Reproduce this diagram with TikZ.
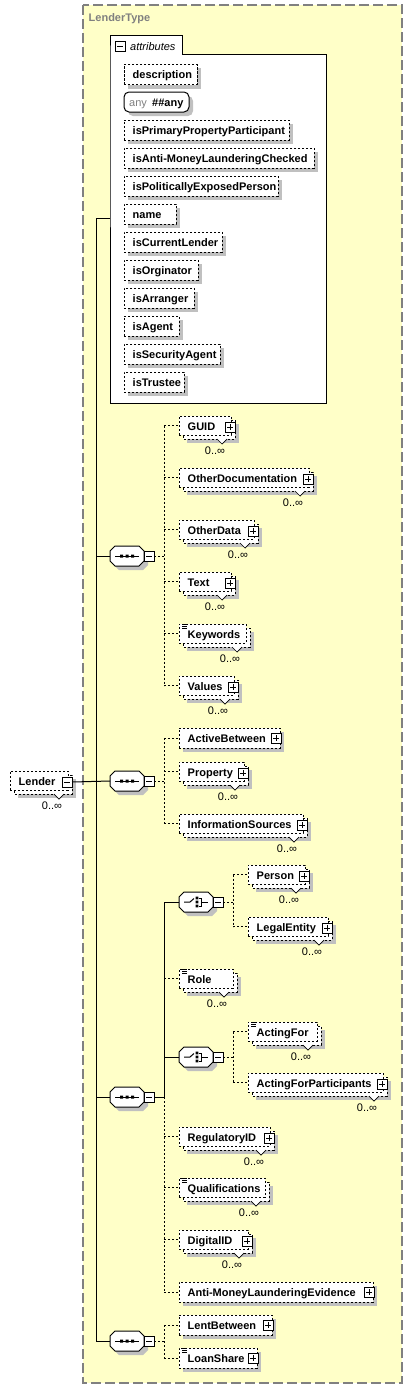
\documentclass[tikz,border=0pt]{standalone}
\usepackage{fontspec}
\setmainfont{Liberation Sans}
\definecolor{ylw}{HTML}{FFFFC8}
\definecolor{shc}{HTML}{C0C0C0}
\definecolor{brd}{HTML}{808080}
\tikzset{
 dbox/.style={draw=black, fill=white, line width=1pt, dash pattern=on 2.2pt off 1.8pt},
 ebox/.style={dbox, inner sep=0pt, outer sep=0pt},
 lbl/.style={font=\bfseries\fontsize{11}{13}\selectfont, inner sep=0pt, anchor=base west},
 mul/.style={font=\fontsize{11}{13}\selectfont, inner sep=0pt, anchor=base},
 con/.style={line width=1pt},
 dcon/.style={line width=1pt, dash pattern=on 2.2pt off 1.8pt},
 pbox/.style={draw, fill=white, line width=0.8pt, inner sep=0pt, outer sep=0pt, minimum size=10pt,
   path picture={\draw[line width=0.8pt] ([xshift=2pt]path picture bounding box.west) -- ([xshift=-2pt]path picture bounding box.east) ([yshift=-2pt]path picture bounding box.north) -- ([yshift=2pt]path picture bounding box.south);}},
 mbox/.style={draw, fill=white, line width=0.8pt, inner sep=0pt, outer sep=0pt, minimum size=10pt,
   path picture={\draw[line width=0.8pt] ([xshift=2pt]path picture bounding box.west) -- ([xshift=-2pt]path picture bounding box.east);}},
}
\newcommand\elS[5]{%
 \fill[shc] ({#2+4},{#4-6}) rectangle ({#3+4},{#4+14});
 \node[ebox, anchor=west, minimum width={(#3-#2)*1pt}, minimum height=20pt] (#1) at (#2,#4) {};
 \node[lbl] (#1-t) at ({#2+8.5},{#4+4}) {#5};}
\newcommand\elSp[5]{\elS{#1}{#2}{#3}{#4}{#5}\node[pbox] (#1-p) at ({#3-4},#4) {};}
\newcommand\elM[5]{%
 \fill[shc] ({#2+8},{#4-2}) rectangle ({#3+4},{#4+17});
 \filldraw[dbox] ({#2+4},{#4-6}) rectangle (#3,{#4+13});
 \filldraw[fill=white, line width=0.7pt] ({#3-18},{#4+13}) -- ({#3-13},{#4+18}) -- ({#3-8},{#4+13});
 \node[ebox, anchor=west, minimum width={(#3-#2-4)*1pt}, minimum height=19pt] (#1) at (#2,{#4-0.5}) {};
 \node[lbl] (#1-t) at ({#2+8.5},{#4+4}) {#5};
 \node[mul] (#1-m) at ({#3-20},{#4+28}) {0..∞};}
\newcommand\elMp[5]{\elM{#1}{#2}{#3}{#4}{#5}\node[pbox] (#1-p) at ({#3-5},{#4+1}) {};}
\newcommand\docic[2]{\draw[line width=0.7pt] ({#1+3},#2) -- ({#1+8},#2) ({#1+3},{#2+2}) -- ({#1+8},{#2+2}) ({#1+3},{#2+4}) -- ({#1+8},{#2+4});}
\newcommand\seqn[3]{%
 \begin{scope}[shift={(#2,#3)}]
 \fill[shc] (9,-6) -- (33,-6) -- (38,-1) -- (38,9) -- (33,14) -- (9,14) -- (4,9) -- (4,-1) -- cycle;
 \filldraw[fill=white, line width=1pt] (5,-10) -- (29,-10) -- (34,-5) -- (34,5) -- (29,10) -- (5,10) -- (0,5) -- (0,-5) -- cycle;
 \draw[line width=1pt] (5,0) -- (29,0);
 \fill (10,-1.5) rectangle (13,1.5) (15.5,-1.5) rectangle (18.5,1.5) (21,-1.5) rectangle (24,1.5);
 \node[inner sep=0pt, outer sep=0pt, minimum width=34pt, minimum height=20pt, anchor=west] (#1) at (0,0) {};
 \node[mbox, anchor=west] (#1m) at (34,0) {};
 \end{scope}}
\newcommand\chn[3]{%
 \begin{scope}[shift={(#2,#3)}]
 \fill[shc] (9,-6) -- (33,-6) -- (38,-1) -- (38,9) -- (33,14) -- (9,14) -- (4,9) -- (4,-1) -- cycle;
 \filldraw[fill=white, line width=1pt] (5,-10) -- (29,-10) -- (34,-5) -- (34,5) -- (29,10) -- (5,10) -- (0,5) -- (0,-5) -- cycle;
 \draw[line width=1pt] (5,0) -- (11,0) -- (15,-3.5);
 \fill (16.6,-5.4) rectangle (19.4,-2.6) (16.6,-1.4) rectangle (19.4,1.4) (16.6,2.6) rectangle (19.4,5.4);
 \draw[line width=1pt] (19.5,-4) -- (22,-4) -- (22,4) -- (19.5,4) (22,0) -- (29,0);
 \node[inner sep=0pt, outer sep=0pt, minimum width=34pt, minimum height=20pt, anchor=west] (#1) at (0,0) {};
 \node[mbox, anchor=west] (#1m) at (34,0) {};
 \end{scope}}
\begin{document}
\begin{tikzpicture}[x=1pt,y=-1pt]
\useasboundingbox (0,0) rectangle (412,1389);
\filldraw[fill=ylw, draw=brd, line width=1.2pt, dash pattern=on 10pt off 4pt] (83,5) rectangle (402,1383);
\node[font=\bfseries\fontsize{11}{13}\selectfont, text=brd, inner sep=0pt, anchor=base west] (title) at (88.5,22) {LenderType};

% attributes
\filldraw[fill=white, line width=1pt] (110,55) -- (110,36) -- (182,36) -- (182,55) -- (326,55) -- (326,403) -- (110,403) -- cycle;
\node[inner sep=0pt, outer sep=0pt, minimum width=216pt, minimum height=348pt, anchor=north west] (attr) at (110,55) {};
\node[mbox] (attrm) at (120,46.5) {};
\node[font=\itshape\fontsize{11}{13}\selectfont, inner sep=0pt, anchor=base west] (attrt) at (130,50.5) {attributes};
\elS{description}{124}{197}{74.5}{description}
\fill[shc, rounded corners=5pt] (128,96) rectangle (193,116);
\draw[rounded corners=5pt, fill=white, line width=1pt] (124,92) rectangle (189,112);
\node[font=\fontsize{11}{13}\selectfont, text=brd, inner sep=0pt, anchor=base west] (anyk) at (129,106) {any};
\node[lbl] (anyv) at (152,106) {\#\#any};
\elS{ipp}{124}{289}{130}{isPrimaryPropertyParticipant}
\elS{iaml}{124}{314}{158}{isAnti-MoneyLaunderingChecked}
\elS{ipep}{124}{278}{186}{isPoliticallyExposedPerson}
\elS{nm}{124}{176}{214}{name}
\elS{icl}{124}{222}{242}{isCurrentLender}
\elS{iorg}{124}{198}{270}{isOrginator}
\elS{iarr}{124}{194}{298}{isArranger}
\elS{iag}{124}{179}{326}{isAgent}
\elS{isa}{124}{220}{354}{isSecurityAgent}
\elS{itr}{124}{184}{382}{isTrustee}

% Lender
\elM{lender}{10}{72}{781}{Lender}
\node[mbox] (lenderm) at (67,782) {};

% sequences
\seqn{s1}{110}{556}
\seqn{s2}{110}{781}
\seqn{s3}{110}{1097}
\seqn{s4}{110}{1341}
\chn{c1}{179}{902}
\chn{c2}{179}{1057}

% seq1 children
\elMp{guid}{179}{235}{426}{GUID}
\elMp{odoc}{179}{313}{478}{OtherDocumentation}
\elMp{odata}{179}{258}{530}{OtherData}
\elMp{text}{179}{235}{582}{Text}
\elM{kw}{179}{250}{634}{Keywords}\docic{179}{624}
\elMp{val}{179}{238}{686}{Values}

% seq2 children
\elSp{ab}{179}{280}{738}{ActiveBetween}
\elMp{prop}{179}{248}{772}{Property}
\elMp{is}{179}{307}{824}{InformationSources}

% seq3 children
\elMp{person}{248}{309}{875}{Person}
\elMp{le}{248}{332}{927}{LegalEntity}
\elM{role}{179}{237}{979}{Role}\docic{179}{969}
\elM{af}{248}{321}{1032}{ActingFor}\docic{248}{1022}
\elMp{afp}{248}{387}{1083}{ActingForParticipants}
\elMp{rid}{179}{274}{1137}{RegulatoryID}
\elM{qual}{179}{269}{1188}{Qualifications}\docic{179}{1178}
\elMp{did}{179}{252}{1240}{DigitalID}
\elSp{aml}{179}{373}{1292}{Anti-MoneyLaunderingEvidence}

% seq4 children
\elSp{lb}{179}{272}{1325}{LentBetween}
\elSp{ls}{179}{257}{1358}{LoanShare}\docic{179}{1348}

% spine
\coordinate (attrL) at (110,218);
\coordinate (spTop) at (96,218);
\draw[con] (attrL) -- (spTop) -- (spTop |- s4.west) -- (s4.west);
\draw[con] (spTop |- s1.west) -- (s1.west);
\draw[con] (spTop |- s3.west) -- (s3.west);
\draw[con] (lenderm.east) -- (s2.west);

% seq1 bus
\coordinate (b1) at (164,556);
\draw[dcon] (s1m.east) -- (b1);
\draw[dcon] (b1 |- guid.west) -- (b1 |- val.west);
\foreach \n in {guid,odoc,odata,text,kw,val}{\draw[dcon] (b1 |- \n.west) -- (\n.west);}

% seq2 bus
\coordinate (b2) at (164,781);
\draw[dcon] (s2m.east) -- (b2);
\draw[dcon] (b2 |- ab.west) -- (b2 |- is.west);
\foreach \n in {ab,prop,is}{\draw[dcon] (b2 |- \n.west) -- (\n.west);}

% seq3 bus
\coordinate (b3) at (164,1097);
\draw[con] (s3m.east) -- (b3);
\draw[con] (b3) -- (b3 |- c1.west) -- (c1.west);
\draw[con] (b3 |- c2.west) -- (c2.west);
\draw[dcon] (b3) -- (b3 |- aml.west);
\foreach \n in {role,rid,qual,did,aml}{\draw[dcon] (b3 |- \n.west) -- (\n.west);}

% choice buses
\coordinate (b4) at (233,902);
\draw[dcon] (c1m.east) -- (b4);
\draw[dcon] (b4 |- person.west) -- (b4 |- le.west);
\foreach \n in {person,le}{\draw[dcon] (b4 |- \n.west) -- (\n.west);}
\coordinate (b5) at (233,1057);
\draw[dcon] (c2m.east) -- (b5);
\draw[dcon] (b5 |- af.west) -- (b5 |- afp.west);
\foreach \n in {af,afp}{\draw[dcon] (b5 |- \n.west) -- (\n.west);}

% seq4 bus
\coordinate (b6) at (164,1341);
\draw[dcon] (s4m.east) -- (b6);
\draw[dcon] (b6 |- lb.west) -- (b6 |- ls.west);
\foreach \n in {lb,ls}{\draw[dcon] (b6 |- \n.west) -- (\n.west);}
\end{tikzpicture}
\end{document}
